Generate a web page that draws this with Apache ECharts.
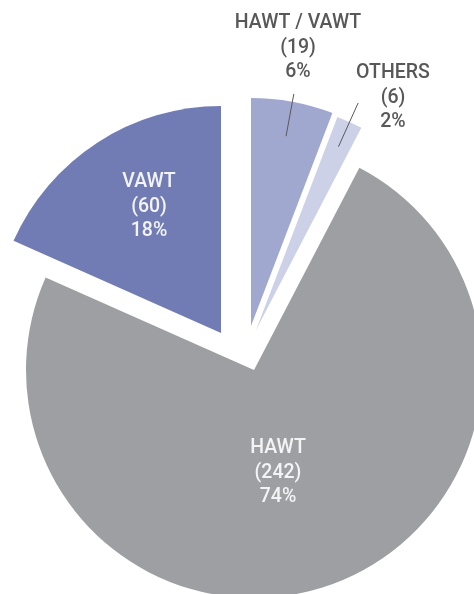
<!DOCTYPE html>
<html>
<head>
<meta charset="utf-8">
<script src="https://cdn.jsdelivr.net/npm/echarts@6/dist/echarts.min.js"></script>
<style>
  html, body { margin: 0; padding: 0; background: #fff; }
  #pieTurbine { width: 474px; height: 594px; }
</style>
</head>
<body>
<div id="pieTurbine"></div>
<script>
// 数据（顺时针，从12点方向开始）
var names = ['HAWT / VAWT', 'OTHERS', 'HAWT', 'VAWT']
var counts = [19, 6, 242, 60]
var colors = ['#a1a8cf', '#cdd1e8', '#9d9fa2', '#717cb4']

var pieChart = echarts.init(document.getElementById('pieTurbine'));

function labelText(p) {
  return p.name + '\n(' + p.value + ')\n' + Math.round(p.percent) + '%'
}

// 每个扇区单独一个系列，用不同圆心做“爆炸”效果
function sliceSeries(focus, center, radius, opts) {
  opts = opts || {}
  return {
    type: 'pie',
    z: opts.helper ? 5 : 2,
    center: center,
    radius: radius,
    startAngle: 90,
    clockwise: true,
    silent: true,
    avoidLabelOverlap: false,
    emphasis: { disabled: true },
    data: names.map((n, i) => ({
      name: n,
      value: counts[i],
      itemStyle: {
        color: (i === focus && !opts.helper) ? colors[i] : 'transparent',
        borderWidth: 0
      },
      label: { show: i === focus && !!opts.label },
      labelLine: { show: i === focus && !!opts.line }
    })),
    label: {
      position: opts.line ? 'outside' : 'inside',
      formatter: labelText,
      fontFamily: 'Roboto',
      fontWeight: 500,
      fontSize: 19.5,
      lineHeight: 24.5,
      color: opts.line ? '#58585a' : '#f4f4f6'
    },
    labelLine: {
      length: opts.lineLen || 40,
      length2: 0,
      lineStyle: { color: '#5a5a5a', width: 1 }
    },
    labelLayout: opts.pos ? function (params) {
      return {
        x: opts.pos[0],
        y: opts.pos[1],
        align: 'center',
        verticalAlign: 'middle',
        labelLinePoints: params.labelLinePoints
      }
    } : null
  }
}

var optionPie = {
  animation: false,
  series: [
    sliceSeries(2, [254, 370], 228, { label: true, pos: [278, 473] }),
    sliceSeries(3, [221, 333], 227, { label: true, pos: [149, 207] }),
    sliceSeries(0, [251, 326], 228),
    sliceSeries(1, [256, 330], 228),
    // 引导线 + 外部标签
    sliceSeries(0, [251, 326], 193, { helper: true, label: true, line: true, lineLen: 43, pos: [298, 48] }),
    sliceSeries(1, [256, 330], 201, { helper: true, label: true, line: true, lineLen: 48, pos: [393, 98] })
  ]
};

pieChart.setOption(optionPie);
</script>
</body>
</html>
